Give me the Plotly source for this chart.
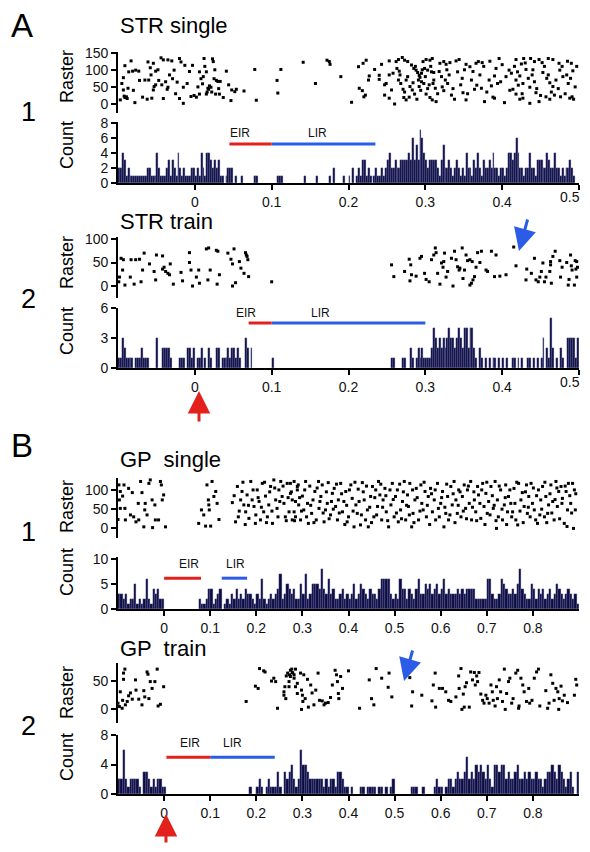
import plotly.graph_objects as go

W, H = 590, 852
OFF = 8                              # page body margin of the browser
FW, FH = W - 2 * OFF, H - 2 * OFF    # figure size that fits the window without scrolling

# ---------------- histogram data (spike counts per bin) ----------------
A_BIN = 0.0025   # STR panels: bins of 2.5 ms from -0.1 s
B_BIN = 0.005    # GP panels: bins of 5 ms from -0.1 s
X0 = -0.1

a1_counts = [
    2,2,4,3,1,2,1,1,1,1, 1,1,1,1,1,2,2,1,1,1,
    4,2,1,1,1,2,3,1,3,2, 1,4,2,1,2,1,1,1,2,2,
    1,2,1,4,2,1,4,4,3,2, 3,2,3,1,1,0,1,2,2,2,
    0,1,0,0,1,0,0,0,0,0, 0,1,1,0,0,0,0,0,0,0,
    0,0,0,1,1,1,0,0,0,0, 0,0,0,0,0,0,0,1,0,0,
    0,0,0,1,0,0,0,0,0,0, 1,0,2,0,0,0,0,1,0,0,
    1,0,2,0,1,2,1,3,3,1, 2,1,0,1,2,1,1,2,1,2,
    3,4,2,2,3,2,2,3,3,3, 3,4,3,6,3,5,3,7,6,4,
    3,2,3,3,3,3,2,1,3,5, 2,2,3,2,1,2,3,2,1,2,
    1,4,2,2,1,3,2,4,2,1, 3,2,2,3,2,4,2,2,1,2,
    2,1,2,4,4,3,4,6,4,2, 2,1,2,2,4,2,2,1,3,3,
    3,2,2,4,3,2,2,4,2,2, 1,2,1,2,2,3,2,1,0,0,
]

a2_counts = [
    1,1,3,2,1,1,1,1,0,1, 1,1,2,1,1,1,0,0,0,0,
    3,0,0,2,2,2,2,1,0,0, 0,0,1,1,1,0,2,2,1,2,
    0,1,1,2,0,1,0,2,1,0, 0,2,2,0,1,1,1,2,1,2,
    2,1,2,1,0,0,3,2,0,2, 0,0,0,0,0,0,0,0,0,0,
    1,0,0,0,0,0,0,0,0,0, 0,0,0,0,0,0,0,0,0,0,
    0,0,0,0,0,0,0,0,0,0, 0,0,0,0,0,0,0,0,0,0,
    0,0,0,0,0,0,0,0,0,0, 0,0,0,0,0,0,0,0,0,0,
    0,0,1,1,0,0,0,0,1,1, 0,0,2,1,0,1,2,1,2,1,
    1,1,1,2,4,3,2,3,2,3, 2,3,4,3,3,2,3,4,3,2,
    4,4,2,4,4,2,1,0,2,1, 0,1,0,1,0,1,1,0,1,0,
    1,0,1,0,0,1,1,0,1,0, 1,0,0,1,1,0,1,0,1,0,
    1,3,0,2,1,5,2,0,1,0, 2,1,0,0,3,3,3,3,1,3,
]

b1_counts = [
    3,3,2,3,1,2,2,5,1,2, 1,2,6,2,1,4,3,4,2,2,
    0,0,0,0,0,0,0,0,0,0, 0,0,0,0,0,2,1,1,2,4,
    4,1,2,3,4,0,1,2,1,3, 2,4,2,3,2,4,3,3,2,1,
    3,2,6,2,1,2,3,2,3,4, 7,2,3,5,4,3,4,2,2,5,
    3,7,2,3,5,5,5,4,8,4, 3,6,3,4,2,2,3,4,2,3,
    2,3,5,2,3,5,4,3,2,4, 3,3,2,4,6,6,6,6,3,2,
    3,2,6,4,4,2,4,3,2,4, 6,3,3,5,4,5,3,4,5,3,
    4,6,3,4,3,3,3,4,3,4, 3,4,4,4,4,2,2,2,2,2,
    6,6,3,2,2,3,6,5,4,3, 3,4,3,5,8,4,3,2,2,5,
    4,2,4,3,4,2,3,4,2,3, 5,4,3,2,3,4,3,2,3,1,
]

b2_counts = [
    2,2,6,2,1,2,2,2,2,1, 0,3,3,2,1,2,1,2,2,1,
    1,0,0,0,0,0,0,0,0,0, 0,0,0,0,0,0,0,0,0,0,
    0,0,0,0,0,0,0,0,0,0, 0,0,0,0,0,0,0,1,0,0,
    1,2,1,0,1,2,1,1,1,3, 1,0,3,2,3,4,2,1,2,6,
    4,4,3,2,2,2,2,2,2,1, 2,1,2,2,1,3,3,2,1,1,
    0,1,0,0,0,1,1,0,1,1, 1,1,0,1,1,0,1,0,1,2,
    0,0,0,0,0,0,0,1,1,1, 0,0,1,0,0,0,0,1,2,1,
    1,0,1,2,2,1,2,3,2,2, 3,5,2,3,2,4,3,4,3,2,
    4,2,1,4,4,3,4,4,2,3, 2,2,3,4,2,2,3,2,3,2,
    2,3,2,2,1,2,3,3,4,3, 2,4,3,2,1,2,3,1,0,3,
]

# ---------------- raster data: (spike time s, trial #) ----------------
a1_raster = [
    (-0.097,12),(-0.093,77),(-0.093,41),(-0.092,23),(-0.091,19),(-0.089,21),(-0.088,16),
    (-0.091,112),(-0.083,126),(-0.086,94),(-0.081,96),(-0.077,99),(-0.087,46),(-0.078,4),
    (-0.073,96),(-0.072,69),(-0.065,70),(-0.061,123),(-0.060,70),(-0.062,14),(-0.058,106),
    (-0.056,17),(-0.054,41),(-0.053,51),(-0.051,56),(-0.054,119),(-0.051,96),(-0.044,135),
    (-0.041,129),(-0.047,69),(-0.043,56),(-0.038,65),(-0.041,16),(-0.035,129),(-0.030,126),
    (-0.035,49),(-0.036,43),(-0.029,74),(-0.027,99),(-0.023,64),(-0.020,133),(-0.018,123),
    (-0.020,16),(-0.015,2),(-0.015,49),(-0.013,113),(-0.005,22),(-0.001,25),(0.002,20),
    (-0.003,113),(0.006,94),(0.008,74),(0.010,59),(0.006,29),(0.012,133),(0.011,80),
    (0.015,94),(0.017,46),(0.018,43),(0.019,53),(0.021,49),(0.015,29),(0.016,35),
    (0.023,132),(0.024,124),(0.025,74),(0.028,69),(0.030,66),(0.033,66),(0.022,35),
    (0.027,29),(0.032,29),(0.037,19),(0.041,96),(0.044,56),(0.048,41),(0.052,36),
    (0.047,10),(0.054,43),(0.064,38),(0.078,101),(0.080,11),(0.107,69),(0.108,32),(0.112,101),
    (-0.095,60),(-0.080,40),(-0.068,20),(-0.057,85),(-0.048,100),(-0.033,85),(-0.025,30),
    (-0.010,60),(-0.007,95),(0.004,50),(0.013,110),(0.026,100),(0.031,45),
    (0.141,122),(0.157,60),(0.172,128),(0.175,124),(0.176,116),(0.190,80),(0.204,5),
    (0.214,46),(0.218,39),(0.220,21),(0.222,26),(0.213,109),(0.219,119),(0.223,128),
    (0.227,82),(0.226,70),(0.234,101),(0.240,84),(0.240,72),(0.243,116),(0.253,126),
    (0.247,56),(0.249,60),(0.247,26),(0.253,17),(0.260,0),(0.253,85),(0.256,41),
    (0.262,124),(0.265,130),(0.270,136),(0.273,128),(0.263,104),(0.266,96),(0.265,70),
    (0.267,85),(0.277,80),(0.275,70),(0.271,43),(0.273,35),(0.272,19),(0.275,12),
    (0.277,124),(0.282,114),(0.285,104),(0.280,51),(0.283,41),(0.286,29),(0.289,14),
    (0.288,99),(0.290,92),(0.292,84),(0.293,78),(0.295,90),(0.292,51),(0.295,65),
    (0.298,60),(0.297,124),(0.301,130),(0.306,128),(0.309,133),(0.299,104),(0.303,99),
    (0.308,94),(0.311,92),(0.301,29),(0.306,19),(0.309,12),(0.314,7),(0.305,56),
    (0.311,70),(0.313,46),(0.319,119),(0.324,124),(0.327,116),(0.332,121),(0.321,80),
    (0.326,70),(0.329,60),(0.324,39),(0.334,26),(0.338,14),(0.340,126),(0.342,94),
    (0.346,56),(0.349,33),(0.353,12),(0.353,116),(0.358,109),(0.360,70),(0.364,43),
    (0.366,119),(0.369,124),(0.374,121),(0.373,46),(0.377,7),(0.383,70),(0.386,53),
    (0.390,82),(0.396,133),(0.392,104),(0.398,65),(0.390,17),(0.403,4),(0.409,99),
    (0.412,90),(0.414,43),(0.418,70),(0.420,94),(0.423,82),(0.427,60),(0.418,130),
    (0.425,117),(0.428,133),(0.418,29),(0.423,14),(0.427,17),(0.436,2),(0.437,133),
    (0.442,124),(0.448,130),(0.452,121),(0.431,101),(0.439,85),(0.442,65),(0.436,49),
    (0.444,33),(0.448,7),(0.453,92),(0.458,75),(0.462,62),(0.466,51),(0.460,133),
    (0.466,130),(0.474,119),(0.457,21),(0.462,14),(0.468,26),(0.475,99),(0.479,80),
    (0.484,85),(0.486,60),(0.476,21),(0.488,17),(0.490,119),(0.492,97),(0.491,21),(0.493,14),
    (0.258,90),(0.268,60),(0.279,20),(0.284,62),(0.287,110),(0.291,70),(0.294,40),
    (0.296,100),(0.300,80),(0.303,45),(0.307,110),(0.310,60),(0.316,30),(0.318,95),
    (0.322,50),(0.328,100),(0.331,85),(0.336,45),(0.344,130),(0.348,75),(0.351,100),
    (0.355,30),(0.362,95),(0.367,55),(0.371,85),(0.376,110),(0.380,35),(0.384,125),
    (0.388,20),(0.394,60),(0.400,115),(0.405,80),(0.410,40),(0.416,110),(0.421,55),
    (0.426,30),(0.430,120),(0.434,75),(0.440,100),(0.445,45),(0.450,25),(0.455,110),
    (0.460,85),(0.464,35),(0.470,70),(0.473,45),(0.478,110),(0.482,30),(0.485,125),
    (0.489,75),(0.495,50),(0.497,110),
]

a2_raster = [
    (-0.099,9),(-0.098,19),(-0.096,59),(-0.093,56),(-0.091,2),(-0.094,34),(-0.084,19),
    (-0.083,56),(-0.079,4),(-0.077,56),(-0.072,57),(-0.070,9),(-0.068,34),(-0.066,70),
    (-0.059,47),(-0.053,31),(-0.051,13),(-0.050,66),(-0.042,64),(-0.042,36),(-0.040,40),
    (-0.038,31),(-0.035,27),(-0.033,24),(-0.032,47),(-0.028,4),(-0.018,29),(-0.016,11),
    (-0.007,71),(-0.007,50),(-0.005,34),(-0.003,0),(0.002,19),(0.005,34),(0.006,6),
    (0.015,79),(0.018,81),(0.017,13),(0.020,34),(0.028,76),(0.030,74),(0.029,4),
    (0.032,24),(0.043,70),(0.047,57),(0.049,0),(0.049,47),(0.051,79),(0.053,7),
    (0.058,52),(0.060,38),(0.064,27),(0.066,71),(0.067,66),(0.068,63),(0.069,56),
    (0.070,20),(0.100,9),
    (0.256,45),(0.259,20),(0.273,31),(0.279,57),(0.281,45),(0.282,24),(0.280,11),
    (0.288,21),(0.293,59),(0.295,63),(0.299,27),(0.301,14),(0.305,9),(0.308,56),
    (0.311,66),(0.313,81),(0.314,71),(0.316,27),(0.319,4),(0.321,49),(0.323,40),
    (0.324,52),(0.325,70),(0.327,19),(0.329,31),(0.334,59),(0.336,0),(0.338,74),
    (0.340,56),(0.342,41),(0.344,34),(0.345,38),(0.348,81),(0.351,34),(0.349,16),
    (0.353,66),(0.355,54),(0.358,56),(0.361,52),(0.358,2),(0.360,6),(0.362,13),
    (0.364,20),(0.366,40),(0.368,71),(0.371,50),(0.373,74),(0.379,34),(0.381,31),
    (0.386,74),(0.392,66),(0.390,20),(0.397,21),(0.405,24),(0.415,83),(0.418,43),
    (0.431,13),(0.432,36),(0.438,27),(0.442,59),(0.444,13),(0.447,9),(0.449,19),
    (0.451,31),(0.453,49),(0.455,9),(0.457,19),(0.462,31),(0.463,52),(0.463,45),
    (0.464,6),(0.466,63),(0.469,74),(0.475,54),(0.476,19),(0.478,40),(0.484,50),
    (0.486,2),(0.487,14),(0.489,66),(0.490,43),(0.491,34),(0.495,54),(0.496,36),
    (0.497,52),(0.497,19),(0.498,40),(0.494,2),
]

b1_raster = [
    (-0.098,113),(-0.095,96),(-0.097,74),(-0.100,23),(-0.090,84),(-0.085,52),(-0.084,22),
    (-0.077,104),(-0.073,35),(-0.069,93),(-0.066,30),(-0.061,17),(-0.055,22),(-0.051,122),
    (-0.048,93),(-0.044,4),(-0.042,48),(-0.041,65),(-0.037,35),(-0.033,117),(-0.030,126),
    (-0.026,74),(-0.025,2),(-0.020,61),(-0.019,22),(-0.008,122),(-0.006,113),(-0.004,74),
    (-0.001,87),(0.003,4),(-0.012,22),(-0.087,113),(-0.056,65),(-0.095,52),
    (0.075,13),(0.081,48),(0.086,35),(0.090,6),(0.093,113),(0.096,74),(0.097,61),
    (0.098,48),(0.101,6),(0.104,122),(0.108,83),(0.112,96),(0.115,65),(0.119,23),
    (0.148,67),(0.155,17),(0.159,109),(0.161,30),(0.166,74),(0.169,96),(0.173,61),
    (0.177,43),(0.180,87),(0.184,26),(0.188,122),(0.191,74),(0.195,57),(0.198,13),
    (0.202,100),(0.206,70),(0.209,22),(0.213,117),(0.216,43),(0.220,84),(0.224,30),
    (0.227,61),(0.231,109),(0.235,13),(0.238,126),(0.242,74),(0.245,52),(0.249,100),
    (0.253,122),(0.256,83),(0.260,65),(0.263,30),(0.267,117),(0.271,43),(0.274,91),
    (0.278,22),(0.282,122),(0.285,70),(0.289,109),
    (0.152,85),(0.163,45),(0.171,120),(0.176,10),(0.183,60),(0.193,100),(0.199,35),
    (0.204,80),(0.211,55),(0.218,120),(0.222,15),(0.229,95),(0.234,45),(0.240,105),
    (0.247,30),(0.251,70),(0.258,110),(0.265,20),(0.269,80),
    (0.274,117),(0.278,74),(0.282,43),(0.285,30),(0.289,100),(0.292,61),(0.291,113),
    (0.296,22),(0.300,84),(0.303,48),(0.307,122),(0.311,65),(0.313,13),(0.316,110),
    (0.320,39),(0.323,74),(0.327,96),(0.330,22),(0.335,122),(0.336,52),(0.340,83),
    (0.343,113),(0.347,17),(0.350,48),(0.354,65),(0.356,119),(0.361,35),(0.365,91),
    (0.369,104),(0.372,57),(0.376,22),(0.378,74),(0.383,117),(0.387,43),(0.390,70),
    (0.394,96),(0.397,17),(0.400,30),(0.405,113),(0.408,78),(0.412,4),(0.416,61),
    (0.419,39),(0.421,102),(0.426,9),(0.430,119),(0.434,74),(0.437,22),(0.441,48),
    (0.443,4),(0.448,83),(0.452,109),(0.455,30),(0.459,100),(0.463,57),(0.465,122),
    (0.468,87),(0.472,22),(0.475,74),(0.479,104),(0.482,43),(0.487,4),(0.492,61),
    (0.495,117),(0.499,30),(0.502,83),(0.506,100),(0.508,17),(0.513,48),(0.517,70),
    (0.521,122),(0.524,22),(0.528,87),(0.530,57),(0.533,117),(0.537,4),(0.540,39),
    (0.544,74),(0.547,104),(0.552,22),(0.557,113),(0.559,65),(0.562,48),(0.566,96),
    (0.569,30),(0.573,83),(0.578,104),(0.582,43),(0.586,74),(0.589,22),(0.593,117),
    (0.595,52),(0.600,65),(0.604,96),(0.607,4),(0.611,39),(0.615,83),(0.617,22),
    (0.622,109),(0.625,61),(0.629,122),(0.633,74),(0.636,39),(0.639,100),(0.644,30),
    (0.647,83),(0.651,113),(0.654,52),(0.658,100),(0.662,65),(0.665,122),(0.667,22),
    (0.673,74),(0.676,43),(0.680,109),(0.682,87),(0.687,26),(0.691,117),(0.694,57),
    (0.698,91),(0.701,39),(0.704,70),(0.709,109),(0.714,52),(0.718,122),(0.721,0),
    (0.723,74),(0.725,30),(0.730,100),(0.734,22),(0.738,61),(0.741,113),(0.745,43),
    (0.747,83),(0.752,65),(0.756,43),(0.759,104),(0.763,22),(0.767,9),(0.769,117),
    (0.774,74),(0.777,93),(0.781,57),(0.786,113),(0.788,39),(0.791,83),(0.796,117),
    (0.799,65),(0.803,48),(0.806,22),(0.810,13),(0.812,100),(0.817,74),(0.821,109),
    (0.825,30),(0.828,83),(0.832,39),(0.834,61),(0.839,113),(0.843,70),(0.846,22),
    (0.850,122),(0.853,57),(0.856,96),(0.861,109),(0.864,78),(0.868,13),(0.872,96),
    (0.875,48),(0.877,117),(0.882,65),(0.886,117),(0.888,0),(0.890,100),(0.892,48),
    (0.276,95),(0.283,20),(0.294,80),(0.298,45),(0.305,100),(0.309,30),(0.318,60),
    (0.325,15),(0.332,105),(0.338,70),(0.345,40),(0.352,95),(0.358,25),(0.363,70),
    (0.367,50),(0.374,115),(0.380,40),(0.385,90),(0.392,10),(0.396,60),(0.402,100),
    (0.410,45),(0.414,120),(0.423,70),(0.428,35),(0.432,95),(0.439,110),(0.446,55),
    (0.450,15),(0.457,80),(0.461,35),(0.470,115),(0.474,55),(0.481,85),(0.485,20),
    (0.490,100),(0.497,75),(0.504,40),(0.511,115),(0.515,25),(0.519,95),(0.526,60),
    (0.532,35),(0.539,100),(0.542,15),(0.549,80),(0.555,45),(0.564,120),(0.571,60),
    (0.576,10),(0.580,90),(0.588,100),(0.597,30),(0.602,80),(0.609,55),(0.613,115),
    (0.620,35),(0.627,90),(0.631,15),(0.638,60),(0.642,95),(0.649,45),(0.656,25),
    (0.660,110),(0.669,55),(0.672,95),(0.678,20),(0.685,65),(0.689,100),(0.696,10),
    (0.700,120),(0.707,35),(0.712,85),(0.716,60),(0.720,20),(0.727,110),(0.733,50),
    (0.740,80),(0.743,10),(0.750,100),(0.754,30),(0.761,65),(0.765,120),(0.772,45),
    (0.779,15),(0.784,95),(0.790,55),(0.794,30),(0.801,105),(0.808,85),(0.815,35),
    (0.819,50),(0.826,120),(0.830,15),(0.837,90),(0.841,40),(0.848,75),(0.852,105),
    (0.858,25),(0.863,65),(0.870,110),(0.874,5),(0.880,85),(0.884,40),(0.893,90),
]

b2_raster = [
    (-0.100,11),(-0.097,5),(-0.095,31),(-0.091,2),(-0.090,16),(-0.088,53),(-0.085,71),
    (-0.088,64),(-0.084,8),(-0.080,14),(-0.077,24),(-0.073,29),(-0.069,18),(-0.062,52),
    (-0.061,34),(-0.055,18),(-0.048,8),(-0.044,33),(-0.042,22),(-0.037,66),(-0.035,62),
    (-0.033,19),(-0.030,49),(-0.026,37),(-0.020,49),(-0.015,71),(-0.013,6),(-0.008,9),
    (-0.001,40),
    (0.178,14),(0.198,41),(0.204,37),(0.207,72),(0.216,68),(0.219,66),(0.233,50),
    (0.238,55),(0.242,49),(0.246,2),(0.260,31),(0.262,40),(0.260,25),(0.264,19),
    (0.265,59),(0.268,64),(0.271,49),(0.272,61),(0.274,58),(0.277,71),(0.279,64),
    (0.282,61),(0.285,40),(0.289,28),
    (0.274,69),(0.278,65),(0.282,55),(0.271,40),(0.285,71),(0.289,46),(0.296,64),
    (0.298,34),(0.300,25),(0.301,14),(0.303,61),(0.306,19),(0.298,0),(0.311,53),
    (0.313,4),(0.318,43),(0.321,29),(0.325,8),(0.329,34),(0.334,64),(0.337,16),
    (0.343,15),(0.347,8),(0.350,11),(0.356,12),(0.361,21),(0.365,43),(0.371,69),
    (0.374,61),(0.376,49),(0.378,28),(0.379,19),(0.383,58),(0.387,37),(0.400,68),
    (0.424,2),(0.445,52),(0.450,19),(0.455,8),(0.460,72),(0.472,55),(0.486,39),
    (0.488,64),(0.494,22),(0.533,56),(0.539,31),(0.537,6),(0.559,25),(0.581,15),
    (0.584,43),(0.588,64),(0.589,4),(0.597,37),(0.604,37),(0.611,31),(0.617,16),
    (0.622,14),(0.633,22),(0.639,59),(0.640,37),(0.644,72),(0.646,0),(0.649,27),
    (0.651,4),(0.653,40),(0.656,47),(0.662,4),(0.665,66),(0.669,52),(0.673,65),
    (0.675,43),(0.678,59),(0.680,49),(0.683,65),(0.687,27),(0.691,16),(0.694,11),
    (0.698,25),(0.701,19),(0.705,11),(0.709,43),(0.712,31),(0.714,16),(0.718,6),
    (0.721,40),(0.723,19),(0.727,52),(0.730,31),(0.734,14),(0.738,71),(0.740,0),
    (0.743,28),(0.747,49),(0.750,55),(0.754,11),(0.757,19),(0.763,64),(0.767,69),
    (0.769,2),(0.770,6),(0.774,55),(0.778,43),(0.781,31),(0.786,14),(0.791,37),
    (0.793,11),(0.798,16),(0.803,55),(0.808,66),(0.812,71),(0.815,6),(0.828,33),
    (0.832,2),(0.835,11),(0.839,61),(0.843,46),(0.846,16),(0.850,37),(0.854,31),
    (0.856,0),(0.857,19),(0.861,41),(0.864,15),(0.868,25),(0.875,12),(0.890,25),
    (0.893,53),(0.895,43),
]

# ---------------- tick labels / axis settings ----------------
# STR axes: the last label (0.5) sits at the very edge, so it is drawn as a
# right-aligned text instead of a tick label so that it stays fully visible.
a_xticks = [0, 0.1, 0.2, 0.3, 0.4, 0.5]
a_xticklabels = ["0", "0.1", "0.2", "0.3", "0.4", ""]
a_edge_label = "0.5"
b_xticks = [0, 0.1, 0.2, 0.3, 0.4, 0.5, 0.6, 0.7, 0.8]
b_xticklabels = ["0", "0.1", "0.2", "0.3", "0.4", "0.5", "0.6", "0.7", "0.8"]

# (EIR start, EIR end), (LIR start, LIR end) in seconds
a1_eir, a1_lir = (0.045, 0.10), (0.10, 0.235)
a2_eir, a2_lir = (0.07, 0.10), (0.10, 0.30)
b1_eir, b1_lir = (0.0, 0.08), (0.125, 0.18)
b2_eir, b2_lir = (0.005, 0.10), (0.10, 0.24)

FONT = "Liberation Sans, Arial, sans-serif"
BAR_FILL = "#0c0c40"
BAR_EDGE = "#7478b4"
RED = "#e3211c"
BLUE = "#2a5ce8"


def xp(px):
    return (px - OFF) / FW


def yp(py):
    return 1 - (py - OFF) / FH


X_DOM = [xp(118), xp(579)]

panels = [
    dict(raster=a1_raster, counts=a1_counts, bw=A_BIN, xr=[-0.1, 0.5],
         xt=a_xticks, xl=a_xticklabels, edge=a_edge_label, edge_y=197,
         r_dom=(52, 113), r_range=[-26.3, 152], r_ticks=[0, 50, 100, 150],
         c_dom=(122, 183), c_range=[0, 8.13], c_ticks=[0, 2, 4, 6, 8],
         eir=a1_eir, lir=a1_lir, bar_y=5.2, lab_y=6.7, eir_x=0.059, lir_x=0.16,
         title="STR single", title_y=25, num="1", num_y=112,
         raster_lab_y=77, count_lab_y=145),
    dict(raster=a2_raster, counts=a2_counts, bw=A_BIN, xr=[-0.1, 0.5],
         xt=a_xticks, xl=a_xticklabels, edge=a_edge_label, edge_y=382,
         r_dom=(237, 298), r_range=[-25.5, 104.3], r_ticks=[0, 50, 100],
         c_dom=(308, 368), c_range=[0, 6], c_ticks=[0, 3, 6],
         eir=a2_eir, lir=a2_lir, bar_y=4.5, lab_y=5.5, eir_x=0.066, lir_x=0.163,
         title="STR train", title_y=221, num="2", num_y=299,
         raster_lab_y=263, count_lab_y=331),
    dict(raster=b1_raster, counts=b1_counts, bw=B_BIN, xr=[-0.1, 0.9],
         xt=b_xticks, xl=b_xticklabels, edge=None, edge_y=None,
         r_dom=(478, 538), r_range=[-25, 131], r_ticks=[0, 50, 100],
         c_dom=(557, 609), c_range=[0, 10.46], c_ticks=[0, 5, 10],
         eir=b1_eir, lir=b1_lir, bar_y=6.2, lab_y=9.0, eir_x=0.054, lir_x=0.154,
         title="GP  single", title_y=459, num="1", num_y=532,
         raster_lab_y=507, count_lab_y=572),
    dict(raster=b2_raster, counts=b2_counts, bw=B_BIN, xr=[-0.1, 0.9],
         xt=b_xticks, xl=b_xticklabels, edge=None, edge_y=None,
         r_dom=(663, 723), r_range=[-24, 81.8], r_ticks=[0, 50],
         c_dom=(735, 794), c_range=[0, 8], c_ticks=[0, 4, 8],
         eir=b2_eir, lir=b2_lir, bar_y=5.0, lab_y=6.9, eir_x=0.056, lir_x=0.149,
         title="GP  train", title_y=648, num="2", num_y=726,
         raster_lab_y=693, count_lab_y=757),
]

fig = go.Figure()
layout = {}
annotations = []
shapes = []

axis_common = dict(showgrid=False, zeroline=False, showline=True, linecolor="black",
                   linewidth=1.6, ticks="outside", ticklen=5, tickwidth=1.6,
                   tickcolor="black", automargin=False, ticklabeloverflow="allow",
                   tickfont=dict(family=FONT, size=14, color="#111"))

for k, p in enumerate(panels):
    rn, cn = 2 * k + 1, 2 * k + 2
    rx = "x" if rn == 1 else f"x{rn}"
    ry = "y" if rn == 1 else f"y{rn}"
    cx, cy = f"x{cn}", f"y{cn}"
    rxk = "xaxis" if rn == 1 else f"xaxis{rn}"
    ryk = "yaxis" if rn == 1 else f"yaxis{rn}"

    # raster
    ts = [t for t, _ in p["raster"]]
    trials = [r for _, r in p["raster"]]
    fig.add_trace(go.Scatter(x=ts, y=trials, mode="markers", xaxis=rx, yaxis=ry,
                             marker=dict(symbol="square", size=3, color="black"),
                             showlegend=False, hoverinfo="skip"))
    # histogram
    bx = [X0 + (i + 0.5) * p["bw"] for i, c in enumerate(p["counts"]) if c > 0]
    by = [c for c in p["counts"] if c > 0]
    fig.add_trace(go.Bar(x=bx, y=by, width=p["bw"], xaxis=cx, yaxis=cy,
                         marker=dict(color=BAR_FILL, line=dict(color=BAR_EDGE, width=0.3)),
                         showlegend=False, hoverinfo="skip"))

    layout[rxk] = dict(domain=X_DOM, range=p["xr"], visible=False, anchor=ry,
                       automargin=False)
    layout[ryk] = dict(axis_common, domain=[yp(p["r_dom"][1]), yp(p["r_dom"][0])],
                       range=p["r_range"], tickvals=p["r_ticks"], anchor=rx)
    layout[f"xaxis{cn}"] = dict(axis_common, domain=X_DOM, range=p["xr"],
                                tickvals=p["xt"], ticktext=p["xl"], anchor=cy)
    layout[f"yaxis{cn}"] = dict(axis_common, domain=[yp(p["c_dom"][1]), yp(p["c_dom"][0])],
                                range=p["c_range"], tickvals=p["c_ticks"], anchor=cx)
    if p["edge"]:
        annotations.append(dict(text=p["edge"], x=1, y=yp(p["edge_y"]), xref="paper",
                                yref="paper", xanchor="right", yanchor="middle",
                                showarrow=False, font=dict(family=FONT, size=14, color="#111")))

    # EIR / LIR bars
    for (x0, x1), col in ((p["eir"], RED), (p["lir"], BLUE)):
        shapes.append(dict(type="line", xref=cx, yref=cy, x0=x0, x1=x1,
                           y0=p["bar_y"], y1=p["bar_y"], line=dict(color=col, width=3)))
    for txt, xx in (("EIR", p["eir_x"]), ("LIR", p["lir_x"])):
        annotations.append(dict(text=txt, x=xx, y=p["lab_y"], xref=cx, yref=cy,
                                showarrow=False, font=dict(family=FONT, size=12, color="#111")))

    # panel titles & labels
    annotations.append(dict(text=p["title"], x=xp(118), y=yp(p["title_y"]), xref="paper",
                            yref="paper", xanchor="left", yanchor="middle", showarrow=False,
                            font=dict(family=FONT, size=22, color="black")))
    annotations.append(dict(text=p["num"], x=xp(28), y=yp(p["num_y"]), xref="paper",
                            yref="paper", xanchor="center", yanchor="middle", showarrow=False,
                            font=dict(family=FONT, size=27, color="black")))
    for txt, yy in (("Raster", p["raster_lab_y"]), ("Count", p["count_lab_y"])):
        annotations.append(dict(text=txt, x=xp(67), y=yp(yy), xref="paper", yref="paper",
                                xanchor="center", yanchor="middle", textangle=-90,
                                showarrow=False, font=dict(family=FONT, size=18, color="black")))

# section letters
for txt, yy in (("A", 25), ("B", 445)):
    annotations.append(dict(text=txt, x=xp(9), y=yp(yy), xref="paper", yref="paper",
                            xanchor="left", yanchor="middle", showarrow=False,
                            font=dict(family=FONT, size=33, color="black")))

# arrows (tip position, tail offset in px)
arrows = [
    (199, 391, 0, 32, RED),
    (166, 814, 0, 30, RED),
    (519, 251, 9, -33, BLUE),
    (404, 681, 9, -32, BLUE),
]
for x, y, ax, ay, col in arrows:
    annotations.append(dict(x=xp(x), y=yp(y), xref="paper", yref="paper", ax=ax, ay=ay,
                            text="", showarrow=True, arrowhead=2, arrowsize=1.5,
                            arrowwidth=3, arrowcolor=col))

fig.update_layout(width=FW, height=FH,
                  margin=dict(l=0, r=0, t=0, b=0, pad=0, autoexpand=False),
                  paper_bgcolor="white", plot_bgcolor="white", bargap=0,
                  showlegend=False, annotations=annotations, shapes=shapes, **layout)

fig.write_html("out.html")
